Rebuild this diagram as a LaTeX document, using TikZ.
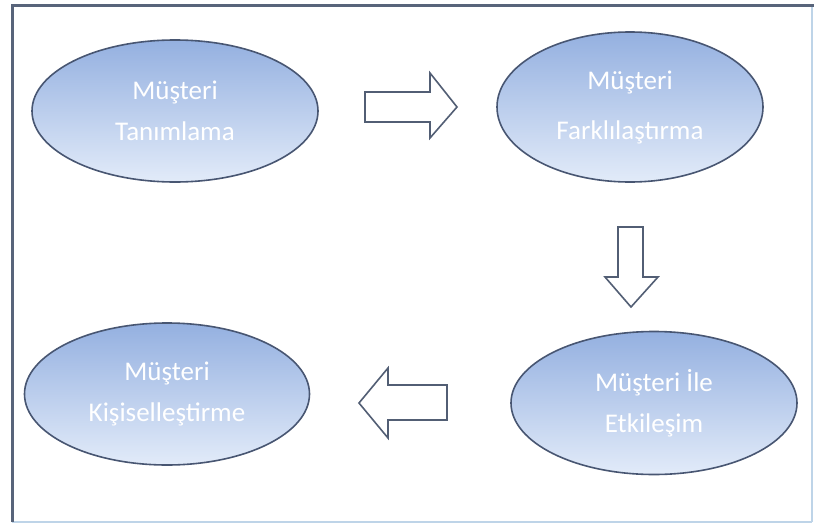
\documentclass[tikz,border=0pt]{standalone}
\usepackage{fontspec}
\setmainfont{Carlito}
\usetikzlibrary{shapes.geometric}
\definecolor{ellfrom}{RGB}{148,176,224}
\definecolor{ellto}{RGB}{226,235,249}
\definecolor{ellline}{RGB}{72,86,114}
\definecolor{arrline}{RGB}{82,94,116}
\definecolor{framedark}{RGB}{88,100,122}
\definecolor{framelight}{RGB}{190,212,232}
\tikzset{
  stage/.style={ellipse, draw=ellline, line width=1.6pt, top color=ellfrom, bottom color=ellto,
    inner sep=0pt, text=white, align=center, font=\fontsize{27}{41}\selectfont},
  blockarrow/.style={draw=arrline, line width=1.6pt, fill=white, line join=miter}
}
\begin{document}
\begin{tikzpicture}[x=1pt,y=-1pt]
\useasboundingbox (0,0) rectangle (819,525);
\fill[white] (0,0) rectangle (819,525);
% frame
\draw[framelight, line width=1.2pt] (812,5) -- (812,522);
\draw[framelight, line width=2pt] (12,522) -- (812,522);
\draw[framedark, line width=3pt] (12,522) -- (12,5) -- (814,5);
% stages
\node[stage, minimum width=286pt, minimum height=142pt] (tan) at (175,111) {Müşteri\\Tanımlama};
\node[stage, minimum width=266pt, minimum height=150pt, font=\fontsize{27}{50}\selectfont] (fark) at (630,107) {Müşteri\\Farklılaştırma};
\node[stage, minimum width=286pt, minimum height=143pt] (etk) at (654,403) {Müşteri İle\\Etkileşim};
\node[stage, minimum width=285pt, minimum height=142pt] (kis) at (167,394) {Müşteri\\Kişiselleştirme};
% block arrows
\draw[blockarrow] (365,92) -- (430,92) -- (430,73) -- (457,107) -- (430,138) -- (430,122) -- (365,122) -- cycle;
\draw[blockarrow] (618,227) -- (643,227) -- (643,277) -- (658,277) -- (631,307) -- (605,277) -- (618,277) -- cycle;
\draw[blockarrow] (447,385) -- (388,385) -- (388,368) -- (359,403) -- (388,438) -- (388,420) -- (447,420) -- cycle;
\end{tikzpicture}
\end{document}
